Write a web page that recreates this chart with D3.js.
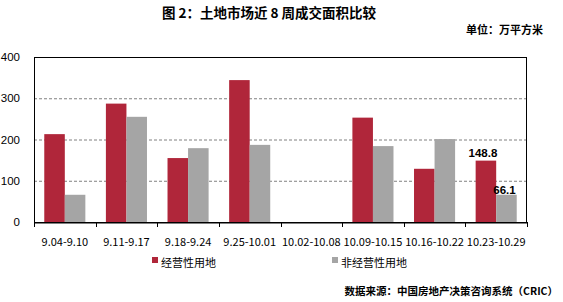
<!DOCTYPE html>
<html><head><meta charset="utf-8">
<script src="https://cdn.jsdelivr.net/npm/d3@7"></script>
<style>body{margin:0;background:#fff;} text{font-family:"Microsoft YaHei","Noto Sans CJK SC",sans-serif;}</style>
</head><body><svg id="c" width="563" height="302"></svg>
<script>
const categories = ["9.04-9.10","9.11-9.17","9.18-9.24","9.25-10.01","10.02-10.08","10.09-10.15","10.16-10.22","10.23-10.29"];
const commercial = [213, 287, 155, 344, 0, 253, 129, 148.8];
const nonCommercial = [66, 255, 179, 187, 0, 184, 201, 66.1];
const seriesNames = ["经营性用地","非经营性用地"];
const yTicks = [0,100,200,300,400];
const colors = ["#B0263A","#A5A5A5"];

const svg = d3.select("#c");
const m = {l:34, r:527, t:57, b:222};
const x = d3.scaleBand().domain(categories).range([m.l, m.r]).paddingInner(0).paddingOuter(0);
const inner = d3.scaleBand().domain([0,1]).range([0, x.bandwidth()]).paddingOuter(0.5).paddingInner(0);
const y = d3.scaleLinear().domain([0,400]).range([m.b, m.t]);
const numFont = "Arial,'Liberation Sans',sans-serif";

// gridlines
svg.append("g").selectAll("line").data(yTicks.filter(t=>t>0&&t<400)).join("line")
  .attr("x1",m.l).attr("x2",m.r).attr("y1",d=>y(d)+0.5).attr("y2",d=>y(d)+0.5)
  .attr("stroke","#808080").attr("stroke-dasharray","3,2").attr("stroke-width",1);

// bars
const data = categories.map((c,i)=>({c, v:[commercial[i], nonCommercial[i]]}));
const g = svg.append("g").selectAll("g").data(data).join("g").attr("transform",d=>`translate(${x(d.c)},0)`);
g.selectAll("rect").data(d=>d.v.map((v,j)=>({v,j}))).join("rect")
  .attr("x",d=>inner(d.j)).attr("width",inner.bandwidth())
  .attr("y",d=>y(d.v)).attr("height",d=>y(0)-y(d.v)).attr("fill",d=>colors[d.j]);

// frame
svg.append("rect").attr("x",m.l+0.5).attr("y",m.t+0.5).attr("width",m.r-m.l-1).attr("height",m.b-m.t)
  .attr("fill","none").attr("stroke","#000").attr("stroke-width",1);

// y axis
const ya = svg.append("g").attr("transform",`translate(${m.l},0)`)
  .call(d3.axisLeft(y).tickValues(yTicks).tickSize(0).tickPadding(14).tickFormat(d3.format("d")));
ya.select(".domain").remove();
ya.selectAll("text").attr("font-size",11.5).attr("fill","#000").style("font-family",numFont);

// x axis
const xa = svg.append("g").attr("transform",`translate(0,${m.b+0.5})`)
  .call(d3.axisBottom(x).tickSize(0).tickPadding(16));
xa.select(".domain").attr("stroke","#000");
xa.selectAll("text").attr("font-size",11).attr("fill","#000");
svg.append("g").selectAll("line").data(d3.range(categories.length+1)).join("line")
  .attr("x1",i=>Math.round(m.l + i*x.step())+0.5).attr("x2",i=>Math.round(m.l + i*x.step())+0.5)
  .attr("y1",m.b).attr("y2",m.b+5).attr("stroke","#000");

// data labels
const last = categories.length-1;
svg.append("text").attr("x",x(categories[last])+inner(0)+inner.bandwidth()/2-3).attr("y",y(commercial[last])-4)
  .attr("text-anchor","middle").attr("font-size",11.5).attr("font-weight","bold").style("font-family",numFont).text(commercial[last]);
svg.append("text").attr("x",x(categories[last])+inner(1)+inner.bandwidth()/2-2).attr("y",y(nonCommercial[last])-1)
  .attr("text-anchor","middle").attr("font-size",11.5).attr("font-weight","bold").style("font-family",numFont).text(nonCommercial[last]);

// title
svg.append("text").attr("x",269).attr("y",18).attr("text-anchor","middle").attr("font-size",13.5).attr("font-weight","bold")
  .text("图 2：土地市场近 8 周成交面积比较");
svg.append("text").attr("x",543).attr("y",34).attr("text-anchor","end").attr("font-size",11).attr("font-weight","bold").text("单位：万平方米");

// legend
const lx = [152, 332];
seriesNames.forEach((n,i)=>{
  svg.append("rect").attr("x",lx[i]).attr("y",257).attr("width",6).attr("height",6).attr("fill",colors[i]);
  svg.append("text").attr("x",lx[i]+9).attr("y",267).attr("font-size",11).attr("fill","#000").text(n);
});

svg.append("text").attr("x",558).attr("y",295).attr("text-anchor","end").attr("font-size",10.5).attr("font-weight","bold").text("数据来源：中国房地产决策咨询系统（CRIC）");
</script></body></html>
